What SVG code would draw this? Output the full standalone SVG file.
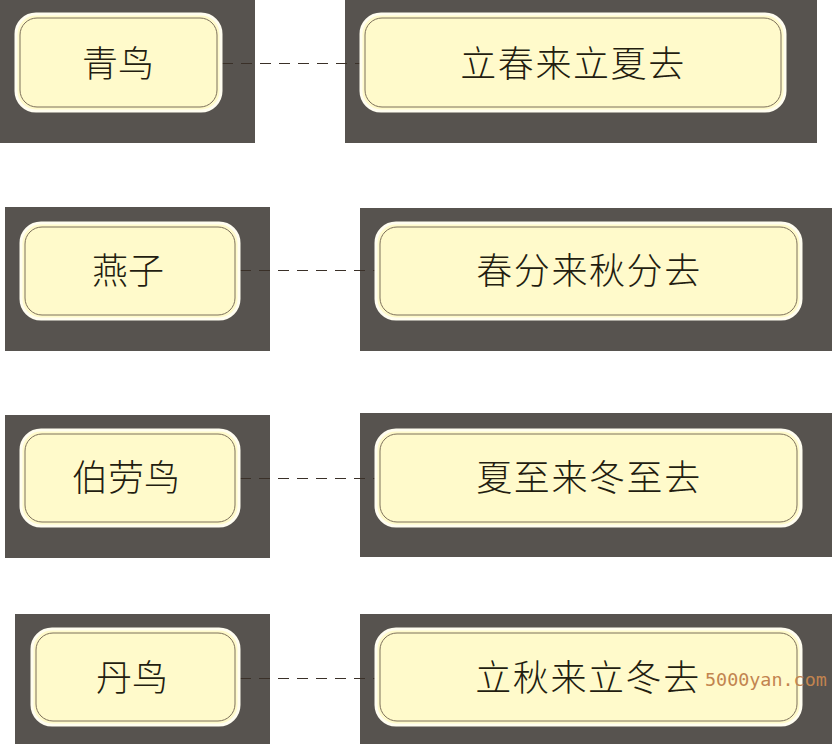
<svg xmlns="http://www.w3.org/2000/svg" width="832" height="744" viewBox="0 0 832 744">
<style>
.bg{fill:#57534f}
.node{fill:#fffacb;stroke:#fffdf0;stroke-width:3}
.inner{fill:none;stroke:#7d705a;stroke-width:1}
.t{font-family:"Noto Sans CJK SC","Noto Sans CJK JP",sans-serif;font-size:36px;font-weight:300;fill:#231d10;text-anchor:middle}
.w{letter-spacing:1.6px}
.c{stroke:#3a3028;stroke-width:1;stroke-dasharray:11 8;fill:none}
.wm{font-family:"DejaVu Sans Mono","Liberation Mono",monospace;font-size:18.4px;fill:#c2844f}
</style>
<rect width="832" height="744" fill="#ffffff"/>
<g id="backgrounds">
<rect class="bg" x="0" y="0" width="255" height="143"/>
<rect class="bg" x="345" y="0" width="472" height="143"/>
<rect class="bg" x="5" y="207" width="265" height="144"/>
<rect class="bg" x="360" y="208" width="472" height="143"/>
<rect class="bg" x="5" y="415" width="265" height="143"/>
<rect class="bg" x="360" y="413" width="472" height="144"/>
<rect class="bg" x="15" y="614" width="255" height="130"/>
<rect class="bg" x="360" y="614" width="472" height="130"/>
</g>
<g id="connectors">
<line class="c" x1="222" y1="63.5" x2="360" y2="63.5"/>
<line class="c" x1="240" y1="270.5" x2="375" y2="270.5"/>
<line class="c" x1="240" y1="478.5" x2="375" y2="478.5"/>
<line class="c" x1="240" y1="678.5" x2="375" y2="678.5"/>
</g>
<g id="n1">
<rect class="node" x="16" y="14" width="205" height="97" rx="20"/>
<rect class="inner" x="20" y="18" width="197" height="89" rx="17"/>
<text class="t" x="118" y="77">青鸟</text>
</g>
<g id="n2">
<rect class="node" x="361" y="14" width="424" height="97" rx="20"/>
<rect class="inner" x="365" y="18" width="416" height="89" rx="17"/>
<text class="t w" x="573" y="77">立春来立夏去</text>
</g>
<g id="n3">
<rect class="node" x="21" y="223" width="218" height="96" rx="20"/>
<rect class="inner" x="25" y="227" width="210" height="88" rx="17"/>
<text class="t" x="128" y="284">燕子</text>
</g>
<g id="n4">
<rect class="node" x="376" y="223" width="425" height="96" rx="20"/>
<rect class="inner" x="380" y="227" width="417" height="88" rx="17"/>
<text class="t w" x="589" y="284">春分来秋分去</text>
</g>
<g id="n5">
<rect class="node" x="21" y="430" width="218" height="96" rx="20"/>
<rect class="inner" x="25" y="434" width="210" height="88" rx="17"/>
<text class="t" x="126" y="491">伯劳鸟</text>
</g>
<g id="n6">
<rect class="node" x="376" y="430" width="425" height="96" rx="20"/>
<rect class="inner" x="380" y="434" width="417" height="88" rx="17"/>
<text class="t w" x="589" y="491">夏至来冬至去</text>
</g>
<g id="n7">
<rect class="node" x="32" y="629" width="207" height="96" rx="20"/>
<rect class="inner" x="36" y="633" width="199" height="88" rx="17"/>
<text class="t" x="132" y="691">丹鸟</text>
</g>
<g id="n8">
<rect class="node" x="376" y="629" width="425" height="96" rx="20"/>
<rect class="inner" x="380" y="633" width="417" height="88" rx="17"/>
<text class="t w" x="588" y="691">立秋来立冬去</text>
</g>
<text class="wm" x="705" y="686">5000yan.com</text>
</svg>
